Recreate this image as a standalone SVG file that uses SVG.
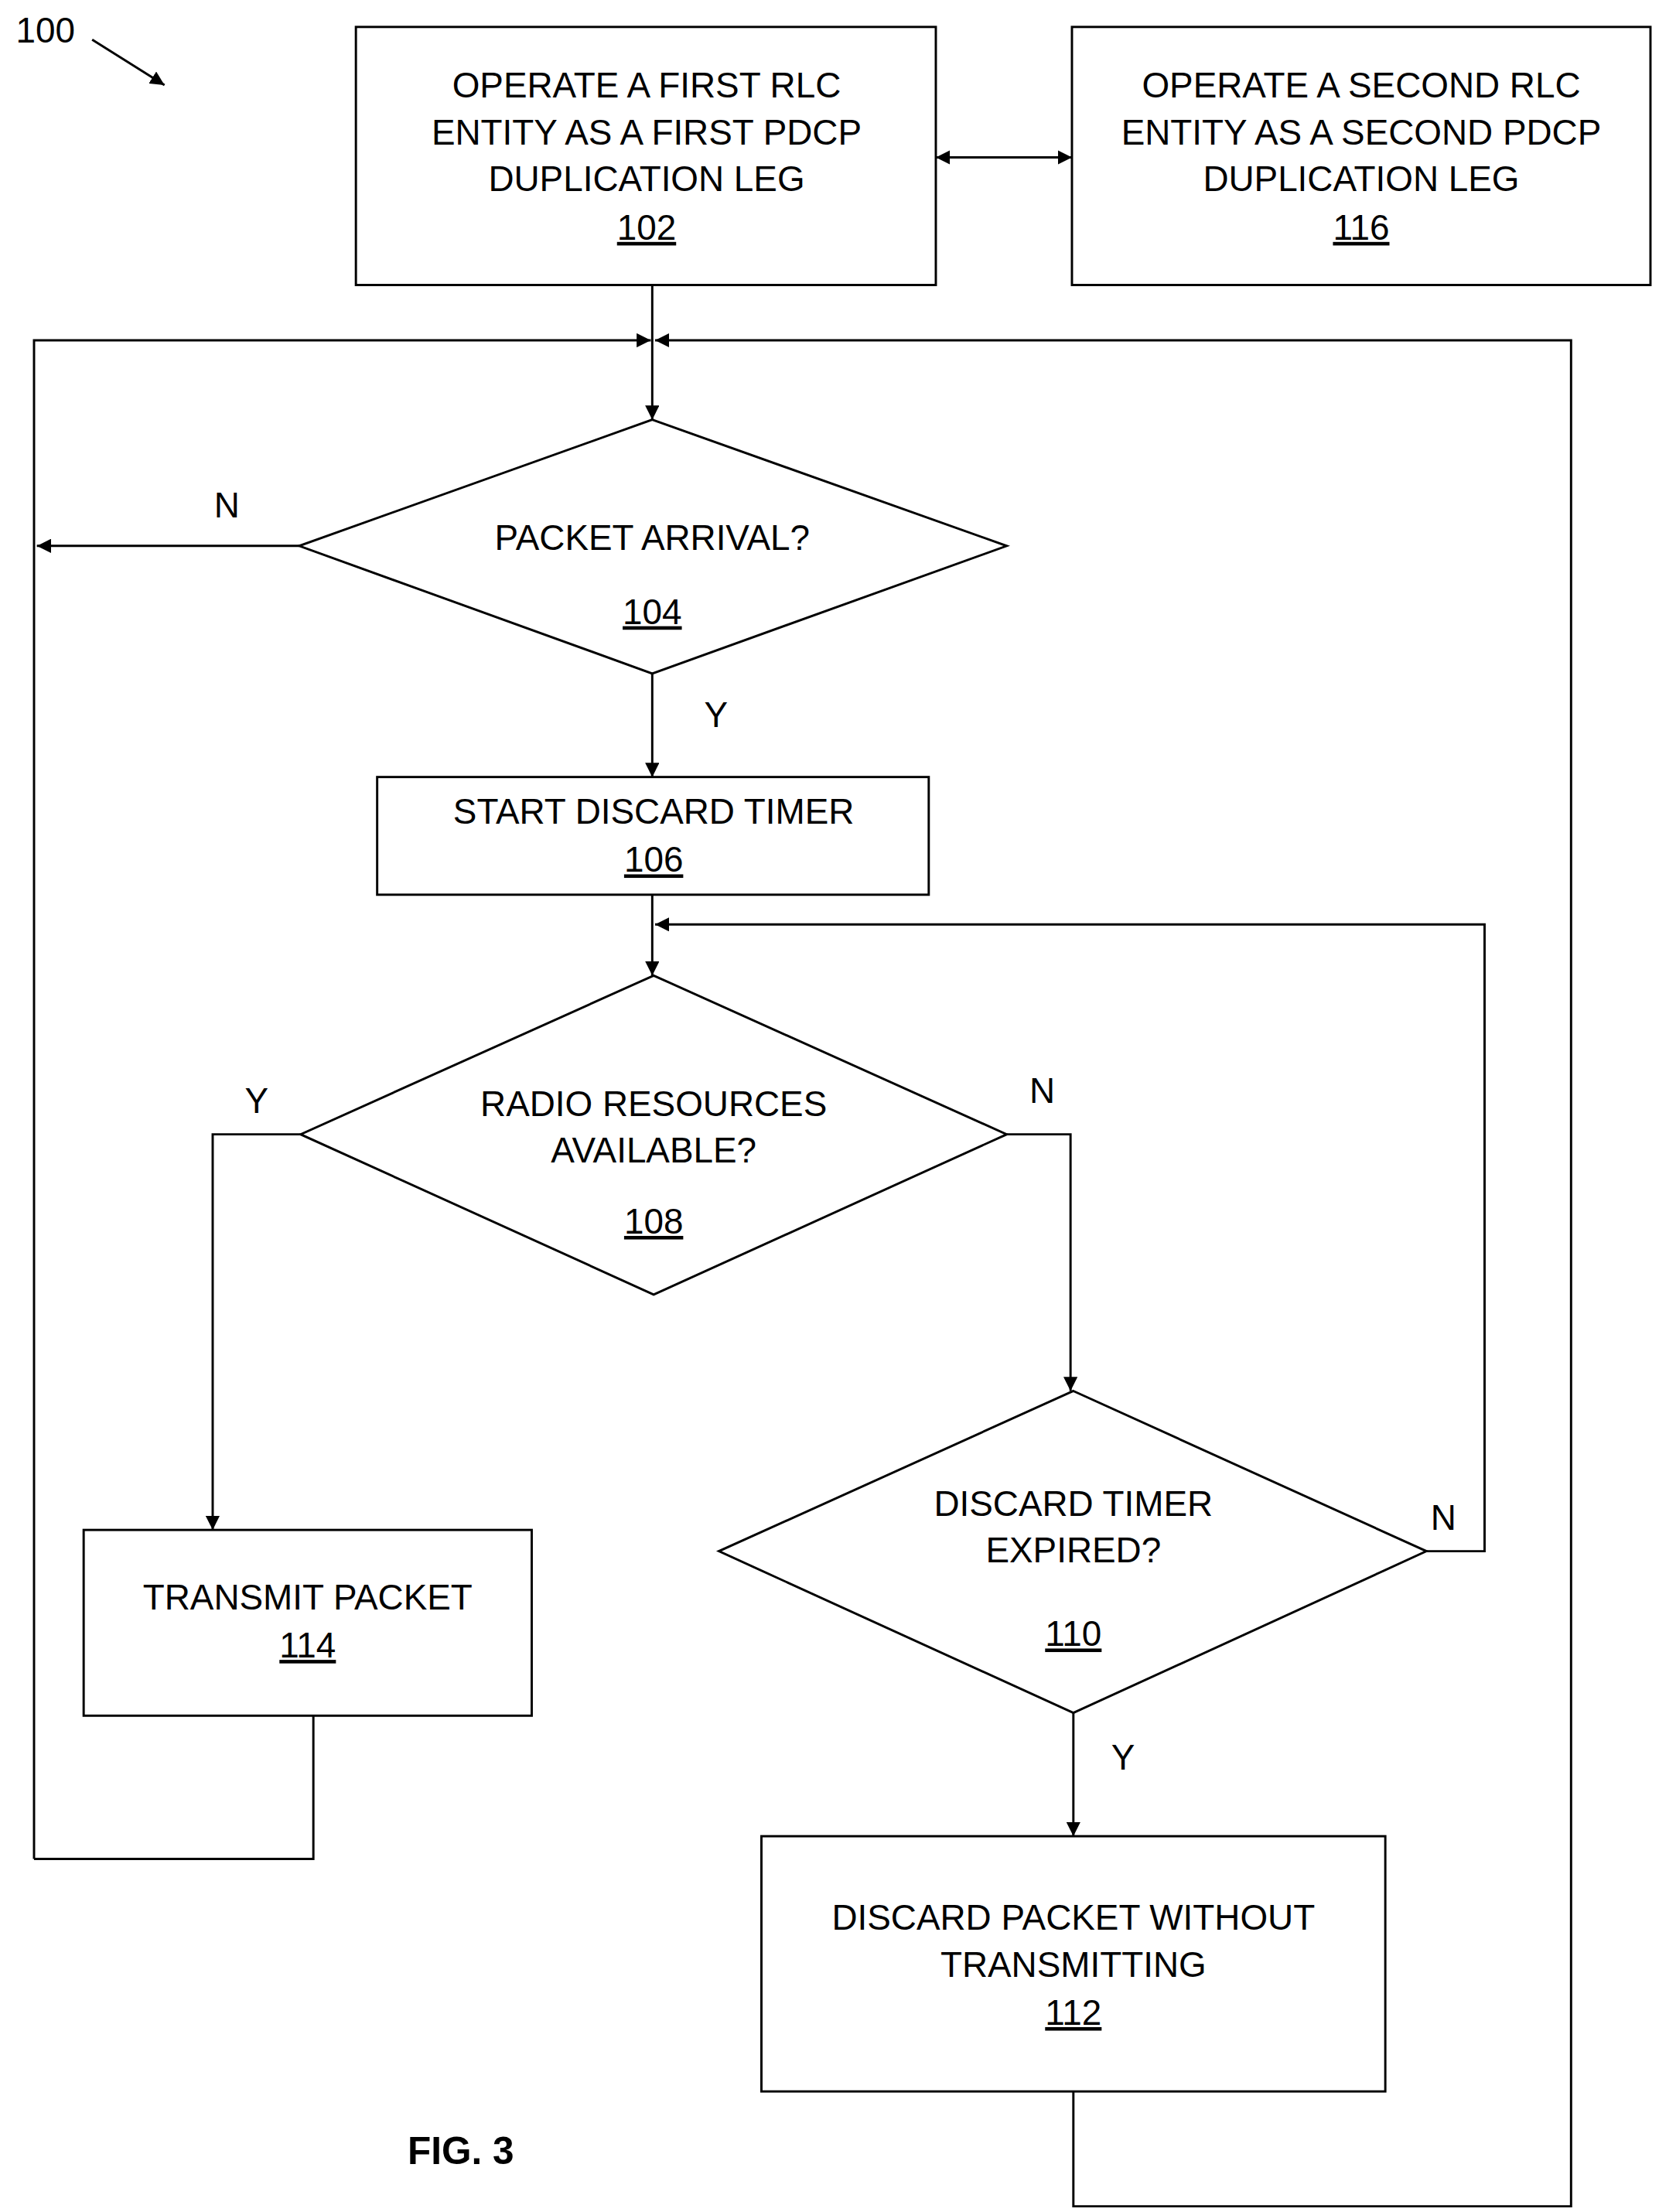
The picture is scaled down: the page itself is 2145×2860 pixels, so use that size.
<svg xmlns="http://www.w3.org/2000/svg" width="2145" height="2860" viewBox="0 0 2145 2860">
<style>
.s{fill:none;stroke:#000;stroke-width:1.6}
.b{fill:#fff;stroke:#000;stroke-width:1.6}
text{font-family:"Liberation Sans",Arial,sans-serif;font-size:25px;fill:#000;text-anchor:middle}
.u{text-decoration:underline}
</style>
<defs>
<marker id="a" viewBox="0 0 10 10" refX="10" refY="5" markerWidth="10" markerHeight="10" markerUnits="userSpaceOnUse" orient="auto-start-reverse"><path d="M0,0 L10,5 L0,10 z" fill="#000"/></marker>
</defs>
<rect width="2145" height="2860" fill="#fff"/>
<g transform="scale(1.8333)">
<g id="connectors">
<line class="s" x1="660" y1="111" x2="756" y2="111" marker-start="url(#a)" marker-end="url(#a)"/>
<line class="s" x1="460" y1="201" x2="460" y2="296" marker-end="url(#a)"/>
<polyline class="s" points="24,1311 24,240 459,240" marker-end="url(#a)"/>
<polyline class="s" points="221,1210 221,1311 24,1311"/>
<line class="s" x1="211" y1="385" x2="26" y2="385" marker-end="url(#a)"/>
<line class="s" x1="460" y1="475" x2="460" y2="548" marker-end="url(#a)"/>
<line class="s" x1="460" y1="631" x2="460" y2="688" marker-end="url(#a)"/>
<polyline class="s" points="212,800 150,800 150,1079" marker-end="url(#a)"/>
<polyline class="s" points="710,800 755,800 755,981" marker-end="url(#a)"/>
<polyline class="s" points="1006,1094 1047,1094 1047,652 462,652" marker-end="url(#a)"/>
<line class="s" x1="757" y1="1208" x2="757" y2="1295" marker-end="url(#a)"/>
<polyline class="s" points="757,1475 757,1556 1108,1556 1108,240 462,240" marker-end="url(#a)"/>
<line class="s" x1="65" y1="28" x2="116" y2="60" marker-end="url(#a)"/>
<text x="160" y="365">N</text>
<text x="505" y="513">Y</text>
<text x="181" y="785">Y</text>
<text x="735" y="778">N</text>
<text x="1018" y="1079">N</text>
<text x="792" y="1248">Y</text>
</g>
<text x="32" y="30">100</text>
<g id="n102"><rect class="b" x="251" y="19" width="409" height="182"/>
<text x="456" y="69">OPERATE A FIRST RLC</text><text x="456" y="102">ENTITY AS A FIRST PDCP</text><text x="456" y="135">DUPLICATION LEG</text><text x="456" y="169" class="u">102</text></g>
<g id="n116"><rect class="b" x="756" y="19" width="408" height="182"/>
<text x="960" y="69">OPERATE A SECOND RLC</text><text x="960" y="102">ENTITY AS A SECOND PDCP</text><text x="960" y="135">DUPLICATION LEG</text><text x="960" y="169" class="u">116</text></g>
<g id="n104"><polygon class="b" points="460,296 710,385 460,475 211,385"/>
<text x="460" y="388">PACKET ARRIVAL?</text><text x="460" y="440" class="u">104</text></g>
<g id="n106"><rect class="b" x="266" y="548" width="389" height="83"/>
<text x="461" y="581">START DISCARD TIMER</text><text x="461" y="615" class="u">106</text></g>
<g id="n108"><polygon class="b" points="461,688 710,800 461,913 212,800"/>
<text x="461" y="787">RADIO RESOURCES</text><text x="461" y="820">AVAILABLE?</text><text x="461" y="870" class="u">108</text></g>
<g id="n110"><polygon class="b" points="757,981 1006,1094 757,1208 507,1094"/>
<text x="757" y="1069">DISCARD TIMER</text><text x="757" y="1102">EXPIRED?</text><text x="757" y="1161" class="u">110</text></g>
<g id="n114"><rect class="b" x="59" y="1079" width="316" height="131"/>
<text x="217" y="1135">TRANSMIT PACKET</text><text x="217" y="1169" class="u">114</text></g>
<g id="n112"><rect class="b" x="537" y="1295" width="440" height="180"/>
<text x="757" y="1361">DISCARD PACKET WITHOUT</text><text x="757" y="1394">TRANSMITTING</text><text x="757" y="1428" class="u">112</text></g>
<text x="325" y="1526" style="font-weight:bold;font-size:27px">FIG. 3</text>
</g>
</svg>
